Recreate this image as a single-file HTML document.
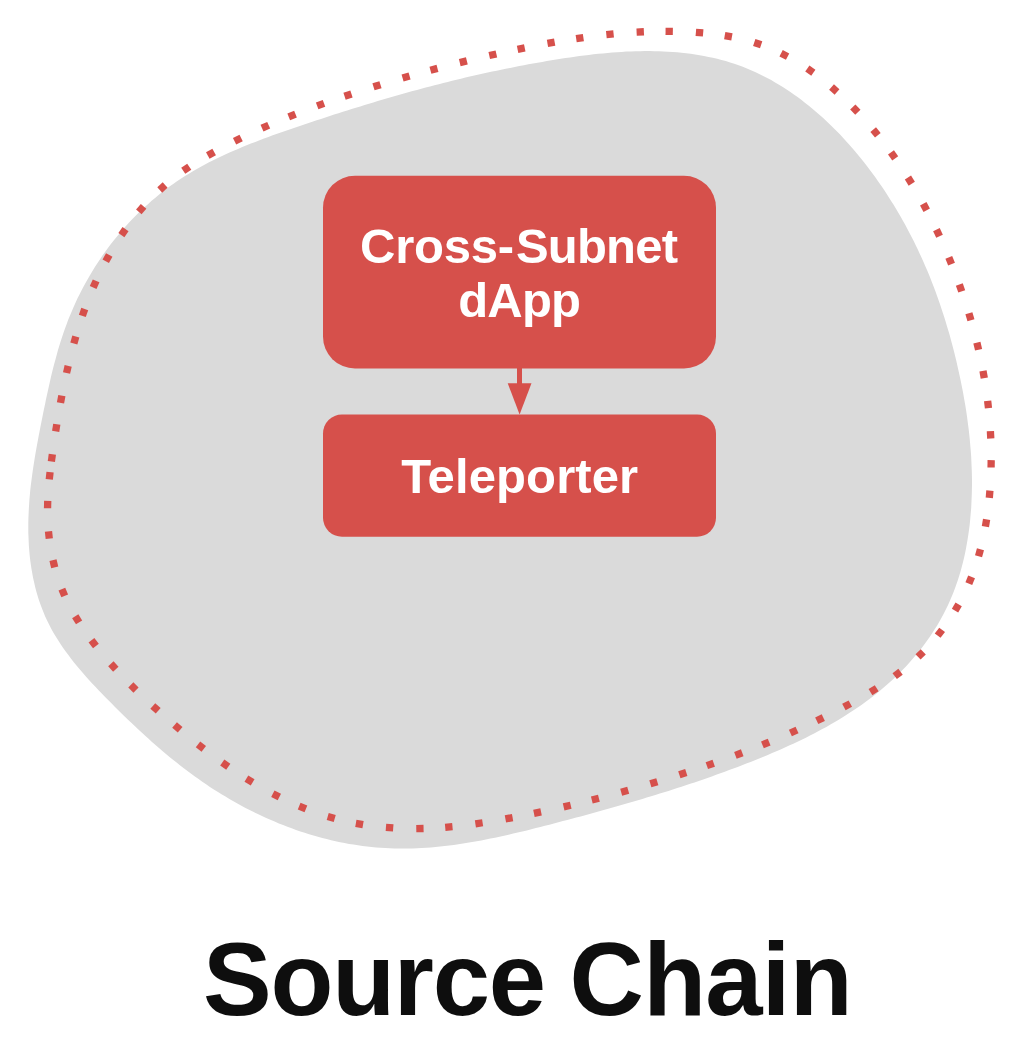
<!DOCTYPE html>
<html><head><meta charset="utf-8"><style>
html,body{margin:0;padding:0;background:#fff;}
body{width:1026px;height:1054px;position:relative;overflow:hidden;font-family:"Liberation Sans",sans-serif;}
svg{position:absolute;left:0;top:0;}
</style></head><body>
<svg width="1026" height="1054" viewBox="0 0 1026 1054">
<path d="M68.3,319.6 L66.7,323.9 L65.1,328.2 L63.6,332.5 L62.1,336.9 L60.7,341.2 L59.4,345.6 L58.0,350.0 L56.8,354.4 L55.6,358.9 L54.4,363.3 L53.2,367.8 L52.1,372.3 L51.0,376.7 L50.0,381.2 L49.0,385.8 L48.0,390.3 L47.0,394.8 L46.0,399.3 L45.1,403.9 L44.1,408.4 L43.2,413.0 L42.3,417.5 L41.4,422.1 L40.5,426.6 L39.6,431.2 L38.7,435.8 L37.9,440.3 L37.0,444.9 L36.2,449.5 L35.4,454.1 L34.6,458.7 L33.9,463.2 L33.2,467.8 L32.5,472.4 L31.9,477.0 L31.3,481.6 L30.7,486.2 L30.2,490.8 L29.8,495.5 L29.4,500.1 L29.1,504.7 L28.8,509.4 L28.6,514.0 L28.4,518.6 L28.3,523.3 L28.3,527.9 L28.3,532.5 L28.5,537.1 L28.7,541.7 L28.9,546.3 L29.3,550.9 L29.7,555.4 L30.2,560.0 L30.8,564.5 L31.5,569.0 L32.3,573.5 L33.1,577.9 L34.1,582.3 L35.1,586.7 L36.2,591.1 L37.5,595.4 L38.8,599.7 L40.3,603.9 L41.8,608.1 L43.5,612.3 L45.2,616.4 L47.1,620.5 L49.1,624.5 L51.1,628.5 L53.3,632.4 L55.6,636.3 L58.0,640.1 L60.5,643.9 L63.0,647.7 L65.7,651.4 L68.4,655.1 L71.1,658.8 L74.0,662.4 L76.9,665.9 L79.9,669.5 L82.9,673.0 L85.9,676.5 L89.0,680.0 L92.2,683.4 L95.4,686.8 L98.6,690.2 L101.8,693.6 L105.1,697.0 L108.4,700.3 L111.7,703.6 L115.0,706.9 L118.3,710.2 L121.6,713.5 L124.9,716.7 L128.3,719.9 L131.6,723.1 L135.0,726.3 L138.4,729.5 L141.7,732.6 L145.2,735.8 L148.6,738.8 L152.0,741.9 L155.5,745.0 L159.0,748.0 L162.4,751.0 L166.0,753.9 L169.5,756.9 L173.0,759.8 L176.6,762.6 L180.2,765.5 L183.8,768.3 L187.5,771.0 L191.2,773.8 L194.9,776.5 L198.6,779.1 L202.3,781.7 L206.1,784.3 L209.9,786.9 L213.8,789.4 L217.6,791.8 L221.5,794.3 L225.5,796.6 L229.4,799.0 L233.4,801.3 L237.4,803.5 L241.4,805.7 L245.5,807.9 L249.6,810.0 L253.7,812.0 L257.8,814.1 L262.0,816.0 L266.2,817.9 L270.4,819.8 L274.6,821.6 L278.9,823.4 L283.1,825.1 L287.4,826.7 L291.7,828.3 L296.0,829.9 L300.4,831.4 L304.7,832.8 L309.1,834.2 L313.5,835.5 L317.9,836.8 L322.3,838.0 L326.7,839.1 L331.2,840.2 L335.6,841.2 L340.1,842.2 L344.6,843.0 L349.0,843.9 L353.5,844.6 L358.0,845.3 L362.6,846.0 L367.1,846.5 L371.6,847.0 L376.1,847.5 L380.7,847.8 L385.2,848.1 L389.8,848.3 L394.3,848.5 L398.9,848.6 L403.5,848.6 L408.0,848.5 L412.6,848.4 L417.2,848.2 L421.7,848.0 L426.3,847.7 L430.9,847.4 L435.5,847.0 L440.1,846.5 L444.6,846.0 L449.2,845.5 L453.8,844.9 L458.4,844.2 L463.0,843.5 L467.5,842.8 L472.1,842.0 L476.7,841.2 L481.3,840.4 L485.8,839.5 L490.4,838.6 L495.0,837.7 L499.5,836.7 L504.1,835.7 L508.6,834.7 L513.2,833.6 L517.7,832.6 L522.3,831.5 L526.8,830.4 L531.3,829.3 L535.9,828.1 L540.4,827.0 L544.9,825.8 L549.4,824.7 L553.9,823.5 L558.4,822.3 L562.9,821.1 L567.3,820.0 L571.8,818.8 L576.2,817.6 L580.7,816.4 L585.1,815.2 L589.6,814.0 L594.0,812.8 L598.4,811.5 L602.8,810.3 L607.3,809.1 L611.7,807.8 L616.1,806.6 L620.5,805.3 L624.8,804.1 L629.2,802.8 L633.6,801.5 L638.0,800.2 L642.4,798.9 L646.7,797.6 L651.1,796.3 L655.4,794.9 L659.8,793.6 L664.1,792.2 L668.5,790.9 L672.8,789.5 L677.2,788.1 L681.5,786.7 L685.8,785.2 L690.2,783.8 L694.5,782.4 L698.8,780.9 L703.2,779.4 L707.5,777.9 L711.8,776.4 L716.1,774.8 L720.4,773.3 L724.8,771.7 L729.1,770.1 L733.4,768.5 L737.7,766.9 L742.0,765.3 L746.3,763.6 L750.6,761.9 L754.9,760.2 L759.2,758.5 L763.5,756.7 L767.8,754.9 L772.1,753.1 L776.4,751.3 L780.6,749.5 L784.9,747.6 L789.1,745.6 L793.3,743.7 L797.5,741.7 L801.7,739.7 L805.9,737.7 L810.0,735.6 L814.1,733.5 L818.2,731.3 L822.3,729.1 L826.4,726.9 L830.4,724.6 L834.4,722.3 L838.3,719.9 L842.3,717.5 L846.2,715.1 L850.0,712.6 L853.9,710.1 L857.7,707.5 L861.4,704.9 L865.1,702.2 L868.8,699.5 L872.5,696.7 L876.1,693.9 L879.6,691.0 L883.1,688.1 L886.6,685.1 L890.0,682.0 L893.4,678.9 L896.7,675.8 L900.0,672.5 L903.2,669.3 L906.4,665.9 L909.5,662.5 L912.5,659.1 L915.5,655.6 L918.4,652.0 L921.3,648.4 L924.1,644.7 L926.8,641.0 L929.5,637.3 L932.0,633.4 L934.5,629.6 L937.0,625.7 L939.3,621.7 L941.5,617.7 L943.7,613.7 L945.8,609.6 L947.8,605.5 L949.7,601.3 L951.5,597.1 L953.2,592.9 L954.9,588.6 L956.4,584.3 L957.9,580.0 L959.3,575.6 L960.6,571.3 L961.8,566.8 L962.9,562.4 L964.0,557.9 L965.0,553.5 L965.9,549.0 L966.7,544.4 L967.5,539.9 L968.2,535.4 L968.9,530.8 L969.5,526.2 L970.0,521.7 L970.4,517.1 L970.8,512.5 L971.2,507.9 L971.4,503.3 L971.6,498.7 L971.8,494.1 L971.9,489.5 L972.0,484.9 L972.0,480.2 L971.9,475.6 L971.8,471.0 L971.6,466.4 L971.4,461.8 L971.2,457.1 L970.9,452.5 L970.5,447.9 L970.1,443.3 L969.7,438.7 L969.2,434.1 L968.7,429.5 L968.1,424.9 L967.5,420.3 L966.9,415.7 L966.2,411.1 L965.5,406.5 L964.7,401.9 L963.9,397.4 L963.1,392.8 L962.2,388.3 L961.3,383.8 L960.4,379.2 L959.4,374.7 L958.4,370.2 L957.4,365.7 L956.4,361.2 L955.3,356.8 L954.2,352.3 L953.1,347.9 L951.9,343.5 L950.7,339.0 L949.5,334.6 L948.2,330.2 L946.9,325.9 L945.6,321.5 L944.2,317.1 L942.8,312.8 L941.4,308.5 L940.0,304.2 L938.5,299.9 L936.9,295.6 L935.4,291.3 L933.8,287.0 L932.1,282.8 L930.5,278.5 L928.8,274.3 L927.0,270.1 L925.2,265.9 L923.4,261.8 L921.5,257.6 L919.6,253.4 L917.7,249.3 L915.7,245.2 L913.7,241.1 L911.6,237.0 L909.5,232.9 L907.4,228.9 L905.2,224.8 L902.9,220.8 L900.7,216.8 L898.3,212.8 L896.0,208.8 L893.6,204.8 L891.1,200.9 L888.6,197.0 L886.1,193.0 L883.5,189.1 L880.9,185.3 L878.2,181.4 L875.5,177.6 L872.7,173.8 L869.9,170.0 L867.1,166.2 L864.2,162.5 L861.2,158.8 L858.3,155.2 L855.2,151.6 L852.2,148.0 L849.1,144.5 L845.9,141.0 L842.8,137.5 L839.6,134.1 L836.3,130.8 L833.0,127.4 L829.7,124.2 L826.3,121.0 L822.9,117.8 L819.4,114.7 L815.9,111.7 L812.4,108.7 L808.8,105.7 L805.2,102.9 L801.6,100.1 L797.9,97.3 L794.2,94.7 L790.4,92.1 L786.6,89.5 L782.8,87.1 L779.0,84.7 L775.1,82.4 L771.2,80.1 L767.2,78.0 L763.2,75.9 L759.2,73.9 L755.1,72.0 L751.0,70.2 L746.9,68.5 L742.8,66.8 L738.6,65.3 L734.3,63.8 L730.1,62.4 L725.8,61.1 L721.5,59.9 L717.2,58.8 L712.8,57.8 L708.4,56.9 L704.0,56.0 L699.6,55.2 L695.1,54.5 L690.6,53.8 L686.1,53.3 L681.6,52.8 L677.1,52.3 L672.5,52.0 L668.0,51.7 L663.4,51.4 L658.8,51.3 L654.2,51.2 L649.6,51.1 L644.9,51.1 L640.3,51.2 L635.6,51.3 L631.0,51.4 L626.3,51.6 L621.6,51.9 L616.9,52.2 L612.3,52.5 L607.6,52.9 L602.9,53.4 L598.2,53.8 L593.5,54.3 L588.8,54.9 L584.1,55.5 L579.4,56.1 L574.8,56.7 L570.1,57.4 L565.4,58.1 L560.8,58.8 L556.1,59.5 L551.5,60.3 L546.8,61.1 L542.2,61.9 L537.6,62.7 L533.0,63.5 L528.4,64.3 L523.9,65.2 L519.3,66.1 L514.8,67.0 L510.2,67.9 L505.7,68.8 L501.2,69.7 L496.7,70.7 L492.2,71.6 L487.7,72.6 L483.2,73.6 L478.8,74.6 L474.3,75.6 L469.8,76.6 L465.4,77.6 L461.0,78.7 L456.5,79.8 L452.1,80.8 L447.7,81.9 L443.3,83.0 L438.9,84.2 L434.5,85.3 L430.1,86.4 L425.7,87.6 L421.3,88.7 L417.0,89.9 L412.6,91.1 L408.2,92.3 L403.9,93.5 L399.5,94.8 L395.1,96.0 L390.8,97.3 L386.4,98.5 L382.1,99.8 L377.7,101.1 L373.3,102.4 L369.0,103.7 L364.6,105.0 L360.3,106.4 L355.9,107.7 L351.6,109.1 L347.2,110.4 L342.9,111.8 L338.5,113.2 L334.1,114.6 L329.8,116.0 L325.4,117.4 L321.0,118.9 L316.7,120.3 L312.3,121.7 L307.9,123.2 L303.5,124.7 L299.1,126.2 L294.7,127.7 L290.3,129.2 L285.9,130.7 L281.5,132.2 L277.1,133.8 L272.7,135.3 L268.4,136.9 L264.0,138.6 L259.6,140.2 L255.3,141.9 L250.9,143.6 L246.6,145.3 L242.3,147.1 L238.0,148.9 L233.7,150.7 L229.5,152.6 L225.2,154.5 L221.0,156.5 L216.8,158.5 L212.7,160.5 L208.6,162.6 L204.5,164.8 L200.4,167.0 L196.4,169.2 L192.5,171.5 L188.5,173.9 L184.6,176.3 L180.8,178.8 L177.0,181.3 L173.2,183.9 L169.5,186.6 L165.8,189.3 L162.2,192.1 L158.6,195.0 L155.1,197.9 L151.6,200.8 L148.2,203.9 L144.8,206.9 L141.4,210.1 L138.1,213.2 L134.9,216.5 L131.7,219.8 L128.6,223.1 L125.5,226.5 L122.5,229.9 L119.5,233.4 L116.6,236.9 L113.7,240.5 L110.9,244.1 L108.1,247.7 L105.4,251.4 L102.8,255.1 L100.2,258.9 L97.7,262.7 L95.2,266.6 L92.8,270.5 L90.4,274.4 L88.1,278.4 L85.8,282.4 L83.6,286.4 L81.5,290.4 L79.5,294.5 L77.4,298.6 L75.5,302.8 L73.6,307.0 L71.8,311.2 L70.0,315.4Z" fill="#DADADA"/>
<g fill="#D6504B">
<rect x="-3.65" y="-3.65" width="7.3" height="7.3" transform="translate(51.87 457.92) rotate(-82.4)"/>
<rect x="-3.65" y="-3.65" width="7.3" height="7.3" transform="translate(56.23 427.84) rotate(-81.0)"/>
<rect x="-3.65" y="-3.65" width="7.3" height="7.3" transform="translate(61.17 399.22) rotate(-79.3)"/>
<rect x="-3.65" y="-3.65" width="7.3" height="7.3" transform="translate(67.37 369.46) rotate(-77.1)"/>
<rect x="-3.65" y="-3.65" width="7.3" height="7.3" transform="translate(74.84 340.05) rotate(-74.2)"/>
<rect x="-3.65" y="-3.65" width="7.3" height="7.3" transform="translate(83.53 312.46) rotate(-70.7)"/>
<rect x="-3.65" y="-3.65" width="7.3" height="7.3" transform="translate(94.63 284.23) rotate(-66.2)"/>
<rect x="-3.65" y="-3.65" width="7.3" height="7.3" transform="translate(107.49 258.11) rotate(-61.3)"/>
<rect x="-3.65" y="-3.65" width="7.3" height="7.3" transform="translate(123.46 232.12) rotate(-55.4)"/>
<rect x="-3.65" y="-3.65" width="7.3" height="7.3" transform="translate(141.20 209.14) rotate(-49.1)"/>
<rect x="-3.65" y="-3.65" width="7.3" height="7.3" transform="translate(162.44 187.49) rotate(-41.9)"/>
<rect x="-3.65" y="-3.65" width="7.3" height="7.3" transform="translate(186.25 168.79) rotate(-34.3)"/>
<rect x="-3.65" y="-3.65" width="7.3" height="7.3" transform="translate(210.97 153.72) rotate(-29.2)"/>
<rect x="-3.65" y="-3.65" width="7.3" height="7.3" transform="translate(237.84 139.59) rotate(-26.4)"/>
<rect x="-3.65" y="-3.65" width="7.3" height="7.3" transform="translate(265.36 126.71) rotate(-23.9)"/>
<rect x="-3.65" y="-3.65" width="7.3" height="7.3" transform="translate(292.12 115.46) rotate(-21.8)"/>
<rect x="-3.65" y="-3.65" width="7.3" height="7.3" transform="translate(320.57 104.63) rotate(-19.9)"/>
<rect x="-3.65" y="-3.65" width="7.3" height="7.3" transform="translate(348.02 95.08) rotate(-18.5)"/>
<rect x="-3.65" y="-3.65" width="7.3" height="7.3" transform="translate(376.99 85.78) rotate(-17.2)"/>
<rect x="-3.65" y="-3.65" width="7.3" height="7.3" transform="translate(406.07 77.08) rotate(-16.1)"/>
<rect x="-3.65" y="-3.65" width="7.3" height="7.3" transform="translate(433.95 69.32) rotate(-15.0)"/>
<rect x="-3.65" y="-3.65" width="7.3" height="7.3" transform="translate(463.30 61.75) rotate(-13.9)"/>
<rect x="-3.65" y="-3.65" width="7.3" height="7.3" transform="translate(492.82 54.76) rotate(-12.7)"/>
<rect x="-3.65" y="-3.65" width="7.3" height="7.3" transform="translate(521.17 48.63) rotate(-11.7)"/>
<rect x="-3.65" y="-3.65" width="7.3" height="7.3" transform="translate(551.07 42.82) rotate(-10.2)"/>
<rect x="-3.65" y="-3.65" width="7.3" height="7.3" transform="translate(579.78 38.09) rotate(-8.4)"/>
<rect x="-3.65" y="-3.65" width="7.3" height="7.3" transform="translate(609.97 34.28) rotate(-5.9)"/>
<rect x="-3.65" y="-3.65" width="7.3" height="7.3" transform="translate(640.25 31.93) rotate(-2.9)"/>
<rect x="-3.65" y="-3.65" width="7.3" height="7.3" transform="translate(669.20 31.31) rotate(0.5)"/>
<rect x="-3.65" y="-3.65" width="7.3" height="7.3" transform="translate(699.52 32.67) rotate(4.7)"/>
<rect x="-3.65" y="-3.65" width="7.3" height="7.3" transform="translate(728.31 36.30) rotate(10.1)"/>
<rect x="-3.65" y="-3.65" width="7.3" height="7.3" transform="translate(757.70 43.67) rotate(18.5)"/>
<rect x="-3.65" y="-3.65" width="7.3" height="7.3" transform="translate(784.35 54.96) rotate(27.2)"/>
<rect x="-3.65" y="-3.65" width="7.3" height="7.3" transform="translate(810.33 70.67) rotate(34.9)"/>
<rect x="-3.65" y="-3.65" width="7.3" height="7.3" transform="translate(834.28 89.51) rotate(41.2)"/>
<rect x="-3.65" y="-3.65" width="7.3" height="7.3" transform="translate(855.32 109.67) rotate(46.1)"/>
<rect x="-3.65" y="-3.65" width="7.3" height="7.3" transform="translate(875.52 132.39) rotate(50.6)"/>
<rect x="-3.65" y="-3.65" width="7.3" height="7.3" transform="translate(893.11 155.38) rotate(54.5)"/>
<rect x="-3.65" y="-3.65" width="7.3" height="7.3" transform="translate(909.86 180.64) rotate(58.3)"/>
<rect x="-3.65" y="-3.65" width="7.3" height="7.3" transform="translate(924.99 206.95) rotate(61.8)"/>
<rect x="-3.65" y="-3.65" width="7.3" height="7.3" transform="translate(937.98 232.89) rotate(64.9)"/>
<rect x="-3.65" y="-3.65" width="7.3" height="7.3" transform="translate(950.18 260.77) rotate(67.8)"/>
<rect x="-3.65" y="-3.65" width="7.3" height="7.3" transform="translate(960.52 287.92) rotate(70.5)"/>
<rect x="-3.65" y="-3.65" width="7.3" height="7.3" transform="translate(969.92 316.83) rotate(73.5)"/>
<rect x="-3.65" y="-3.65" width="7.3" height="7.3" transform="translate(977.74 346.18) rotate(76.7)"/>
<rect x="-3.65" y="-3.65" width="7.3" height="7.3" transform="translate(983.64 374.55) rotate(79.9)"/>
<rect x="-3.65" y="-3.65" width="7.3" height="7.3" transform="translate(988.06 404.56) rotate(83.4)"/>
<rect x="-3.65" y="-3.65" width="7.3" height="7.3" transform="translate(990.59 434.82) rotate(87.1)"/>
<rect x="-3.65" y="-3.65" width="7.3" height="7.3" transform="translate(991.13 463.82) rotate(90.8)"/>
<rect x="-3.65" y="-3.65" width="7.3" height="7.3" transform="translate(989.61 494.21) rotate(94.9)"/>
<rect x="-3.65" y="-3.65" width="7.3" height="7.3" transform="translate(986.00 523.05) rotate(99.5)"/>
<rect x="-3.65" y="-3.65" width="7.3" height="7.3" transform="translate(979.50 552.74) rotate(105.4)"/>
<rect x="-3.65" y="-3.65" width="7.3" height="7.3" transform="translate(970.21 580.17) rotate(112.2)"/>
<rect x="-3.65" y="-3.65" width="7.3" height="7.3" transform="translate(956.84 607.49) rotate(119.9)"/>
<rect x="-3.65" y="-3.65" width="7.3" height="7.3" transform="translate(939.90 632.75) rotate(127.8)"/>
<rect x="-3.65" y="-3.65" width="7.3" height="7.3" transform="translate(920.65 654.34) rotate(135.7)"/>
<rect x="-3.65" y="-3.65" width="7.3" height="7.3" transform="translate(897.62 673.91) rotate(143.2)"/>
<rect x="-3.65" y="-3.65" width="7.3" height="7.3" transform="translate(873.59 690.15) rotate(148.4)"/>
<rect x="-3.65" y="-3.65" width="7.3" height="7.3" transform="translate(847.12 705.32) rotate(151.7)"/>
<rect x="-3.65" y="-3.65" width="7.3" height="7.3" transform="translate(820.01 719.23) rotate(153.9)"/>
<rect x="-3.65" y="-3.65" width="7.3" height="7.3" transform="translate(793.72 731.52) rotate(155.9)"/>
<rect x="-3.65" y="-3.65" width="7.3" height="7.3" transform="translate(765.80 743.46) rotate(157.8)"/>
<rect x="-3.65" y="-3.65" width="7.3" height="7.3" transform="translate(738.82 754.06) rotate(159.3)"/>
<rect x="-3.65" y="-3.65" width="7.3" height="7.3" transform="translate(710.28 764.41) rotate(160.8)"/>
<rect x="-3.65" y="-3.65" width="7.3" height="7.3" transform="translate(682.81 773.66) rotate(162.0)"/>
<rect x="-3.65" y="-3.65" width="7.3" height="7.3" transform="translate(653.84 782.77) rotate(163.1)"/>
<rect x="-3.65" y="-3.65" width="7.3" height="7.3" transform="translate(624.69 791.29) rotate(164.3)"/>
<rect x="-3.65" y="-3.65" width="7.3" height="7.3" transform="translate(595.35 799.17) rotate(165.6)"/>
<rect x="-3.65" y="-3.65" width="7.3" height="7.3" transform="translate(567.18 806.08) rotate(166.8)"/>
<rect x="-3.65" y="-3.65" width="7.3" height="7.3" transform="translate(537.50 812.65) rotate(168.2)"/>
<rect x="-3.65" y="-3.65" width="7.3" height="7.3" transform="translate(509.01 818.25) rotate(169.6)"/>
<rect x="-3.65" y="-3.65" width="7.3" height="7.3" transform="translate(479.00 823.29) rotate(171.6)"/>
<rect x="-3.65" y="-3.65" width="7.3" height="7.3" transform="translate(448.84 826.95) rotate(174.8)"/>
<rect x="-3.65" y="-3.65" width="7.3" height="7.3" transform="translate(419.92 828.55) rotate(179.1)"/>
<rect x="-3.65" y="-3.65" width="7.3" height="7.3" transform="translate(389.57 827.68) rotate(-175.7)"/>
<rect x="-3.65" y="-3.65" width="7.3" height="7.3" transform="translate(359.45 823.92) rotate(-170.0)"/>
<rect x="-3.65" y="-3.65" width="7.3" height="7.3" transform="translate(331.23 817.43) rotate(-164.0)"/>
<rect x="-3.65" y="-3.65" width="7.3" height="7.3" transform="translate(302.53 807.49) rotate(-158.0)"/>
<rect x="-3.65" y="-3.65" width="7.3" height="7.3" transform="translate(276.09 795.40) rotate(-153.0)"/>
<rect x="-3.65" y="-3.65" width="7.3" height="7.3" transform="translate(249.51 780.50) rotate(-148.6)"/>
<rect x="-3.65" y="-3.65" width="7.3" height="7.3" transform="translate(225.27 764.60) rotate(-145.0)"/>
<rect x="-3.65" y="-3.65" width="7.3" height="7.3" transform="translate(200.90 746.55) rotate(-142.1)"/>
<rect x="-3.65" y="-3.65" width="7.3" height="7.3" transform="translate(177.35 727.41) rotate(-139.9)"/>
<rect x="-3.65" y="-3.65" width="7.3" height="7.3" transform="translate(155.50 708.37) rotate(-137.9)"/>
<rect x="-3.65" y="-3.65" width="7.3" height="7.3" transform="translate(133.43 687.50) rotate(-135.2)"/>
<rect x="-3.65" y="-3.65" width="7.3" height="7.3" transform="translate(113.34 666.50) rotate(-132.2)"/>
<rect x="-3.65" y="-3.65" width="7.3" height="7.3" transform="translate(93.69 643.16) rotate(-127.7)"/>
<rect x="-3.65" y="-3.65" width="7.3" height="7.3" transform="translate(77.16 619.35) rotate(-121.5)"/>
<rect x="-3.65" y="-3.65" width="7.3" height="7.3" transform="translate(63.30 592.55) rotate(-112.8)"/>
<rect x="-3.65" y="-3.65" width="7.3" height="7.3" transform="translate(53.85 563.76) rotate(-103.7)"/>
<rect x="-3.65" y="-3.65" width="7.3" height="7.3" transform="translate(48.89 535.05) rotate(-96.0)"/>
<rect x="-3.65" y="-3.65" width="7.3" height="7.3" transform="translate(47.64 504.57) rotate(-88.7)"/>
<rect x="-3.65" y="-3.65" width="7.3" height="7.3" transform="translate(49.67 475.70) rotate(-83.8)"/>
</g>
<rect x="323" y="175.7" width="393" height="192.8" rx="32" fill="#D6504B"/>
<rect x="517" y="368" width="5" height="16" fill="#D6504B"/>
<path d="M507.7,383.2 L531.5,383.2 L519.6,414.6Z" fill="#D6504B"/>
<rect x="323" y="414.5" width="393" height="122.3" rx="19" fill="#D6504B"/>
</svg>
<svg width="1026" height="1054" viewBox="0 0 1026 1054" style="position:absolute;left:0;top:0">
<g font-family="Liberation Sans, sans-serif" font-weight="bold" fill="#fff" text-anchor="middle">
<text x="437.05" y="262.6" font-size="49" textLength="154" lengthAdjust="spacing">Cross-</text>
<text x="597" y="262.6" font-size="49" textLength="162" lengthAdjust="spacing">Subnet</text>
<text x="519.6" y="316.9" font-size="49" textLength="122.6" lengthAdjust="spacing">dApp</text>
<text x="519.7" y="493.4" font-size="49" textLength="237" lengthAdjust="spacing">Teleporter</text>
</g>
<g font-family="Liberation Sans, sans-serif" font-weight="bold" fill="#0E0E0E" text-anchor="middle" font-size="103">
<text x="374.5" y="1015" textLength="343" lengthAdjust="spacing">Source</text>
<text x="711.1" y="1015" textLength="283" lengthAdjust="spacing">Chain</text>
</g>
</svg>
</body></html>
